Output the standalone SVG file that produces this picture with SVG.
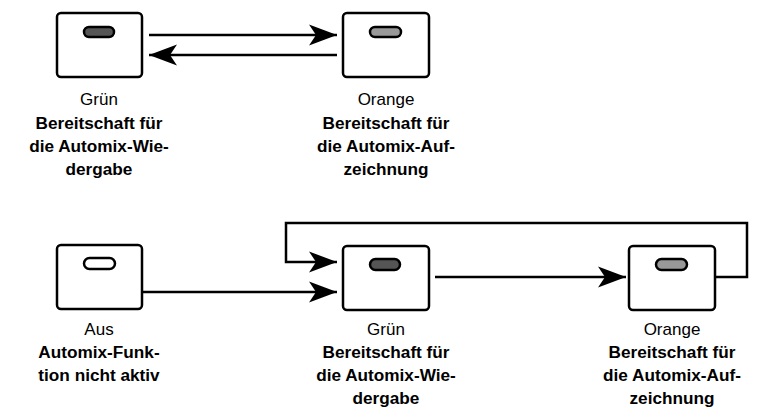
<svg xmlns="http://www.w3.org/2000/svg" width="757" height="419" viewBox="0 0 757 419">
<defs>
<marker id="ah" markerWidth="30" markerHeight="24" refX="28" refY="12" orient="auto" markerUnits="userSpaceOnUse">
<path d="M0,1.5 L28,12 L0,22.5 L7,12 Z" fill="#000"/>
</marker>
<style>
.box{fill:#fff;stroke:#000;stroke-width:2.5}
.pill{stroke:#000;stroke-width:2.5}
.off{fill:#fff}
.green{fill:#555}
.orange{fill:#999}
.ln{fill:none;stroke:#000;stroke-width:2.5}
text{font-family:"Liberation Sans",Arial,sans-serif;font-size:17px;text-anchor:middle;fill:#000}
.b{font-weight:bold;font-size:17.2px}
</style>
</defs>
<rect width="757" height="419" fill="#fff"/>
<g id="connectors">
<line class="ln" x1="149" y1="35" x2="337" y2="35" marker-end="url(#ah)"/>
<line class="ln" x1="337" y1="55" x2="149" y2="55" marker-end="url(#ah)"/>
<line class="ln" x1="142" y1="292" x2="337" y2="292" marker-end="url(#ah)"/>
<line class="ln" x1="435" y1="277" x2="626" y2="277" marker-end="url(#ah)"/>
<polyline class="ln" points="715,277 747,277 747,223 286,223 286,262 337,262" marker-end="url(#ah)"/>
</g>
<g id="node-top-gruen">
<rect class="box" x="57" y="13" width="85" height="64" rx="4"/>
<rect class="pill green" x="84" y="27" width="30" height="10" rx="5"/>
<text x="99" y="105">Grün</text>
<text class="b" x="99" y="129">Bereitschaft für</text>
<text class="b" x="99" y="152">die Automix-Wie-</text>
<text class="b" x="99" y="175">dergabe</text>
</g>
<g id="node-top-orange">
<rect class="box" x="343" y="13" width="86" height="64" rx="4"/>
<rect class="pill orange" x="370" y="27" width="31" height="10" rx="5"/>
<text x="386" y="105">Orange</text>
<text class="b" x="386" y="129">Bereitschaft für</text>
<text class="b" x="386" y="152">die Automix-Auf-</text>
<text class="b" x="386" y="175">zeichnung</text>
</g>
<g id="node-aus">
<rect class="box" x="57" y="245" width="85" height="64" rx="4"/>
<rect class="pill off" x="84" y="258" width="31" height="11" rx="5.5"/>
<text x="99" y="335">Aus</text>
<text class="b" x="99" y="358">Automix-Funk-</text>
<text class="b" x="99" y="381">tion nicht aktiv</text>
</g>
<g id="node-bottom-gruen">
<rect class="box" x="343" y="246" width="86" height="64" rx="4"/>
<rect class="pill green" x="370" y="259" width="30" height="11" rx="5.5"/>
<text x="386" y="335">Grün</text>
<text class="b" x="386" y="358">Bereitschaft für</text>
<text class="b" x="386" y="381">die Automix-Wie-</text>
<text class="b" x="386" y="404">dergabe</text>
</g>
<g id="node-bottom-orange">
<rect class="box" x="629" y="246" width="86" height="64" rx="4"/>
<rect class="pill orange" x="656" y="259" width="31" height="11" rx="5.5"/>
<text x="672" y="335">Orange</text>
<text class="b" x="672" y="358">Bereitschaft für</text>
<text class="b" x="672" y="381">die Automix-Auf-</text>
<text class="b" x="672" y="404">zeichnung</text>
</g>
</svg>
